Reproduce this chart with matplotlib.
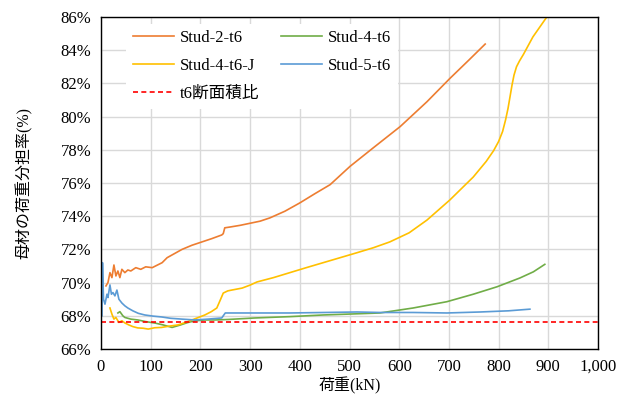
import matplotlib
matplotlib.use("Agg")
import matplotlib.pyplot as plt
from matplotlib.ticker import FuncFormatter

# ---- data (load kN, share %) ----
s2_x = [10, 14, 18, 22, 26, 30, 34, 38, 42, 48, 54, 60, 70, 80, 90, 103, 113, 123, 133, 148, 163, 183, 203, 223, 243, 246, 249, 260, 280, 304, 320, 340, 370, 400, 430, 461, 501, 547, 602, 656, 702, 740, 773]
s2_y = [69.8, 70.0, 70.6, 70.3, 71.06, 70.4, 70.7, 70.3, 70.8, 70.6, 70.76, 70.7, 70.9, 70.8, 70.95, 70.9, 71.05, 71.2, 71.5, 71.75, 72.0, 72.25, 72.45, 72.65, 72.87, 72.95, 73.3, 73.35, 73.45, 73.6, 73.7, 73.9, 74.3, 74.8, 75.35, 75.9, 77.0, 78.1, 79.4, 80.9, 82.3, 83.4, 84.37]

s4_x = [34, 38, 44, 48, 60, 74, 90, 109, 125, 143, 160, 175, 190, 209, 230, 256, 280, 310, 380, 447, 515, 561, 628, 696, 749, 797, 843, 870, 893]
s4_y = [68.17, 68.25, 68.0, 67.9, 67.8, 67.75, 67.65, 67.56, 67.45, 67.3, 67.45, 67.6, 67.7, 67.75, 67.75, 67.78, 67.82, 67.87, 67.95, 68.05, 68.12, 68.17, 68.47, 68.85, 69.3, 69.75, 70.28, 70.65, 71.1]

s4j_x = [18, 22, 26, 30, 36, 42, 48, 56, 64, 74, 85, 95, 108, 122, 138, 155, 170, 183, 196, 209, 222, 233, 240, 246, 255, 263, 284, 300, 314, 347, 380, 413, 447, 481, 515, 548, 581, 620, 656, 702, 749, 775, 790, 800, 808, 814, 819, 823, 827, 831, 836, 842, 850, 869, 897, 905]
s4j_y = [68.47, 68.1, 67.8, 67.9, 67.6, 67.7, 67.57, 67.45, 67.35, 67.27, 67.25, 67.2, 67.28, 67.3, 67.38, 67.45, 67.6, 67.75, 67.9, 68.05, 68.25, 68.47, 68.95, 69.37, 69.5, 69.55, 69.67, 69.85, 70.04, 70.3, 70.6, 70.9, 71.2, 71.5, 71.8, 72.1, 72.45, 73.0, 73.77, 74.98, 76.36, 77.3, 77.95, 78.5, 79.1, 79.8, 80.5, 81.2, 81.9, 82.5, 83.0, 83.35, 83.75, 84.8, 86.0, 86.4]

s5_x = [2, 3, 5, 8, 12, 14, 18, 21, 24, 28, 32, 36, 42, 48, 54, 64, 75, 88, 105, 122, 140, 163, 189, 215, 243, 246, 250, 280, 310, 380, 450, 515, 561, 628, 696, 763, 820, 863]
s5_y = [68.0, 71.2, 69.0, 68.7, 69.3, 69.1, 69.86, 69.3, 69.4, 69.2, 69.55, 69.0, 68.77, 68.6, 68.47, 68.3, 68.15, 68.05, 67.98, 67.93, 67.85, 67.8, 67.75, 67.8, 67.87, 68.0, 68.17, 68.17, 68.17, 68.17, 68.2, 68.23, 68.2, 68.2, 68.17, 68.23, 68.3, 68.4]

ratio_t6 = 67.63

labels = ["Stud-2-t6", "Stud-4-t6", "Stud-4-t6-J", "Stud-5-t6", "t6断面積比"]
x_ticks = [0, 100, 200, 300, 400, 500, 600, 700, 800, 900, 1000]
y_ticks = [66, 68, 70, 72, 74, 76, 78, 80, 82, 84, 86]

FONT = ["Liberation Serif", "Noto Sans CJK JP", "DejaVu Sans"]
plt.rcParams["font.family"] = FONT

fig = plt.figure(figsize=(6.22, 4.03), dpi=100)
ax = fig.add_axes([101/622, 54/403, 497/622, 332/403])

lw = 1.2
l2, = ax.plot(s2_x, s2_y, color="#ED7D31", lw=lw, label=labels[0])
l4, = ax.plot(s4_x, s4_y, color="#70AD47", lw=lw, label=labels[1])
l4j, = ax.plot(s4j_x, s4j_y, color="#FFC000", lw=lw, label=labels[2])
l5, = ax.plot(s5_x, s5_y, color="#5B9BD5", lw=lw, label=labels[3])
lr = ax.axhline(ratio_t6, color="#FF0000", lw=1.2, ls=(0, (3, 2)), label=labels[4])

ax.set_xlim(0, 1000)
ax.set_ylim(66, 86)
ax.set_xticks(x_ticks)
ax.set_yticks(y_ticks)
ax.xaxis.set_major_formatter(FuncFormatter(lambda v, p: f"{v:,.0f}"))
ax.yaxis.set_major_formatter(FuncFormatter(lambda v, p: f"{v:.0f}%"))
ax.grid(True, color="#D9D9D9", lw=1.0)
ax.set_axisbelow(True)
ax.tick_params(length=0, labelsize=12, pad=7)
for sp in ax.spines.values():
    sp.set_color("black")
    sp.set_linewidth(1.0)

ax.set_xlabel("荷重(kN)", fontsize=11.5, labelpad=2)
ax.set_ylabel("母材の荷重分担率(%)", fontsize=11.5, labelpad=20)

leg = ax.legend([l2, l4j, lr, l4, l5],
                [labels[0], labels[2], labels[4], labels[1], labels[3]],
                ncol=2, loc="upper left", bbox_to_anchor=(20/497, 0.995),
                frameon=True, fancybox=False, edgecolor="none", facecolor="white", framealpha=1,
                fontsize=12, handlelength=2.5, handletextpad=0.35, columnspacing=1.25,
                labelspacing=0.72, borderaxespad=0.3)

fig.savefig("out.png", dpi=100)
